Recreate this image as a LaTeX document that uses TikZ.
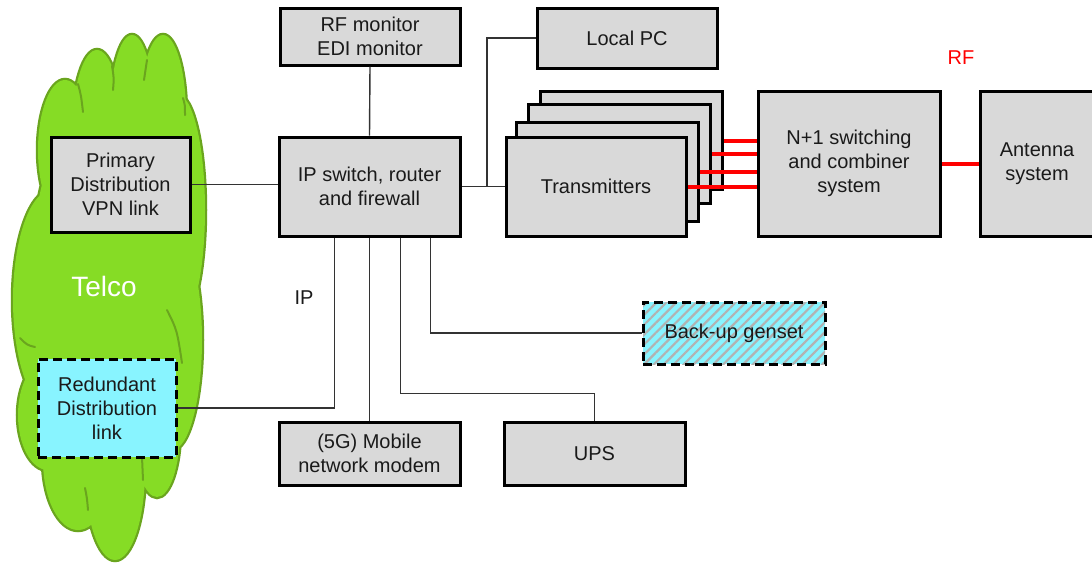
\documentclass[tikz,border=0pt]{standalone}
\usepackage{fontspec}
\setmainfont{Liberation Sans}
\usetikzlibrary{calc,patterns.meta}
\definecolor{boxgray}{HTML}{D9D9D9}
\definecolor{cyanc}{HTML}{88F4FF}
\definecolor{cloudfill}{HTML}{86DC25}
\definecolor{cloudline}{HTML}{6AA51E}
\definecolor{txt}{HTML}{1A1A1A}
\definecolor{rfred}{HTML}{FF0000}
\definecolor{conn}{HTML}{333333}
\tikzset{
  box/.style={draw=black, line width=3pt, fill=boxgray, align=center, text=txt,
    font=\fontsize{20}{24}\selectfont, inner sep=0pt},
  dbox/.style={draw=black, line width=3pt, dash pattern=on 9pt off 5pt, align=center, text=txt,
    font=\fontsize{20}{24}\selectfont, inner sep=0pt},
  wire/.style={draw=conn, line width=1.4pt},
  rfline/.style={draw=rfred, line width=4pt},
  lbl/.style={font=\fontsize{20}{24}\selectfont, inner sep=0pt},
  inner/.style={draw=cloudline, line width=2pt, line cap=round},
}
\begin{document}
\begin{tikzpicture}[x=1pt,y=-1pt]
\useasboundingbox (0,0) rectangle (1092,563);
% cloud
\def\cloudshape{
  (65,150) ellipse [x radius=27pt, y radius=70pt]
  (97,125) ellipse [x radius=24pt, y radius=75pt]
  (132,115) ellipse [x radius=22pt, y radius=80pt]
  (163,115) ellipse [x radius=23pt, y radius=80pt]
  (178,210) ellipse [x radius=27pt, y radius=115pt]
  (52,300) ellipse [x radius=39pt, y radius=110pt]
  (172,340) ellipse [x radius=30pt, y radius=110pt]
  (48,415) ellipse [x radius=30pt, y radius=55pt]
  (78,460) ellipse [x radius=35pt, y radius=70pt]
  (115,470) ellipse [x radius=30pt, y radius=90pt]
  (157,430) ellipse [x radius=23pt, y radius=67pt]
  (110,290) ellipse [x radius=80pt, y radius=200pt]
}
\draw[cloudline, line width=4.5pt] \cloudshape;
\fill[cloudfill] \cloudshape;
\draw[inner] (78,84) .. controls (81,95) .. (83,112);
\draw[inner] (112,66) .. controls (114,78) .. (113,90);
\draw[inner] (147,60) .. controls (145,70) .. (144,80);
\draw[inner] (183,98) .. controls (185,105) .. (185,115);
\draw[inner] (167,310) .. controls (177,330) .. (182,363);
\draw[inner] (20,338) .. controls (27,345) .. (35,347);
\draw[inner] (85,488) .. controls (87,498) .. (88,510);
\draw[inner] (142,457) .. controls (143,468) .. (143,480);
\node[text=white, font=\fontsize{28}{32}\selectfont, inner sep=0pt] (telco) at (104,286) {Telco};

% boxes
\node[box, minimum width=139pt, minimum height=95pt] (prim) at (120.5,184.5) {Primary\\Distribution\\VPN link};
\node[dbox, fill=cyanc, minimum width=138pt, minimum height=98pt] (red) at (107,408) {Redundant\\Distribution\\link};
\node[box, minimum width=180pt, minimum height=57pt] (rfmon) at (370,36.5) {RF monitor\\EDI monitor};
\node[box, minimum width=181pt, minimum height=99pt] (ipsw) at (369.5,186.5) {IP switch, router\\and firewall};
\node[box, minimum width=180pt, minimum height=60pt] (localpc) at (627,38) {Local PC};
\node[box, minimum width=182pt, minimum height=98pt] (tx4) at (631,140) {};
\node[box, minimum width=182pt, minimum height=99pt] (tx3) at (619,153.5) {};
\node[box, minimum width=182pt, minimum height=99pt] (tx2) at (607,171.5) {};
\node[box, minimum width=180pt, minimum height=99pt] (tx1) at (596,186.5) {Transmitters};
\node[box, minimum width=182pt, minimum height=145pt] (nplus) at (849,163.5) {N+1 switching\\and combiner\\system};
\node[box, minimum width=114pt, minimum height=145pt] (ant) at (1037,163.5) {Antenna\\system};
\node[dbox, preaction={fill=cyanc}, preaction={pattern={Lines[angle=45,distance=7pt,line width=2.2pt]}, pattern color=gray!60},
  minimum width=182pt, minimum height=62pt] (genset) at (734,333) {Back-up genset};
\node[box, minimum width=181pt, minimum height=63pt] (ups) at (594.5,453.5) {UPS};
\node[box, minimum width=181pt, minimum height=63pt] (modem) at (369.5,453.5) {(5G) Mobile\\network modem};

% labels
\node[lbl, text=txt] (iplbl) at (304,298) {IP};
\node[lbl, text=rfred] (rflbl) at (961,58) {RF};

% connectors
\draw[wire] (prim.east) -- (prim.east -| ipsw.west);
\draw[wire] (rfmon.south) -- (ipsw.north);
\draw[wire] (ipsw.east) -- (tx1.west);
\coordinate (jpc) at (487,186.5);
\draw[wire] (jpc) |- (localpc.west);
\coordinate (sred) at ($(ipsw.south west)+(57,0)$);
\draw[wire] (sred) |- (red.east);
\draw[wire] (ipsw.south) -- (modem.north);
\coordinate (sups) at ($(ipsw.south west)+(123,0)$);
\coordinate (jups) at ($(ipsw.south west)+(123,156)$);
\draw[wire] (sups) -- (jups) -| (ups.north);
\coordinate (sgen) at ($(ipsw.south west)+(153,0)$);
\draw[wire] (sgen) |- (genset.west);

% RF lines
\coordinate (r4) at ($(tx4.east)+(0,1)$);
\coordinate (r3) at ($(tx3.east)+(0,0.5)$);
\coordinate (r2) at ($(tx2.east)+(0,0.5)$);
\coordinate (r1) at ($(tx1.east)+(0,0.5)$);
\draw[rfline] (r4) -- (r4 -| nplus.west);
\draw[rfline] (r3) -- (r3 -| nplus.west);
\draw[rfline] (r2) -- (r2 -| nplus.west);
\draw[rfline] (r1) -- (r1 -| nplus.west);
\draw[rfline] (nplus.east) -- (nplus.east -| ant.west);
\end{tikzpicture}
\end{document}
